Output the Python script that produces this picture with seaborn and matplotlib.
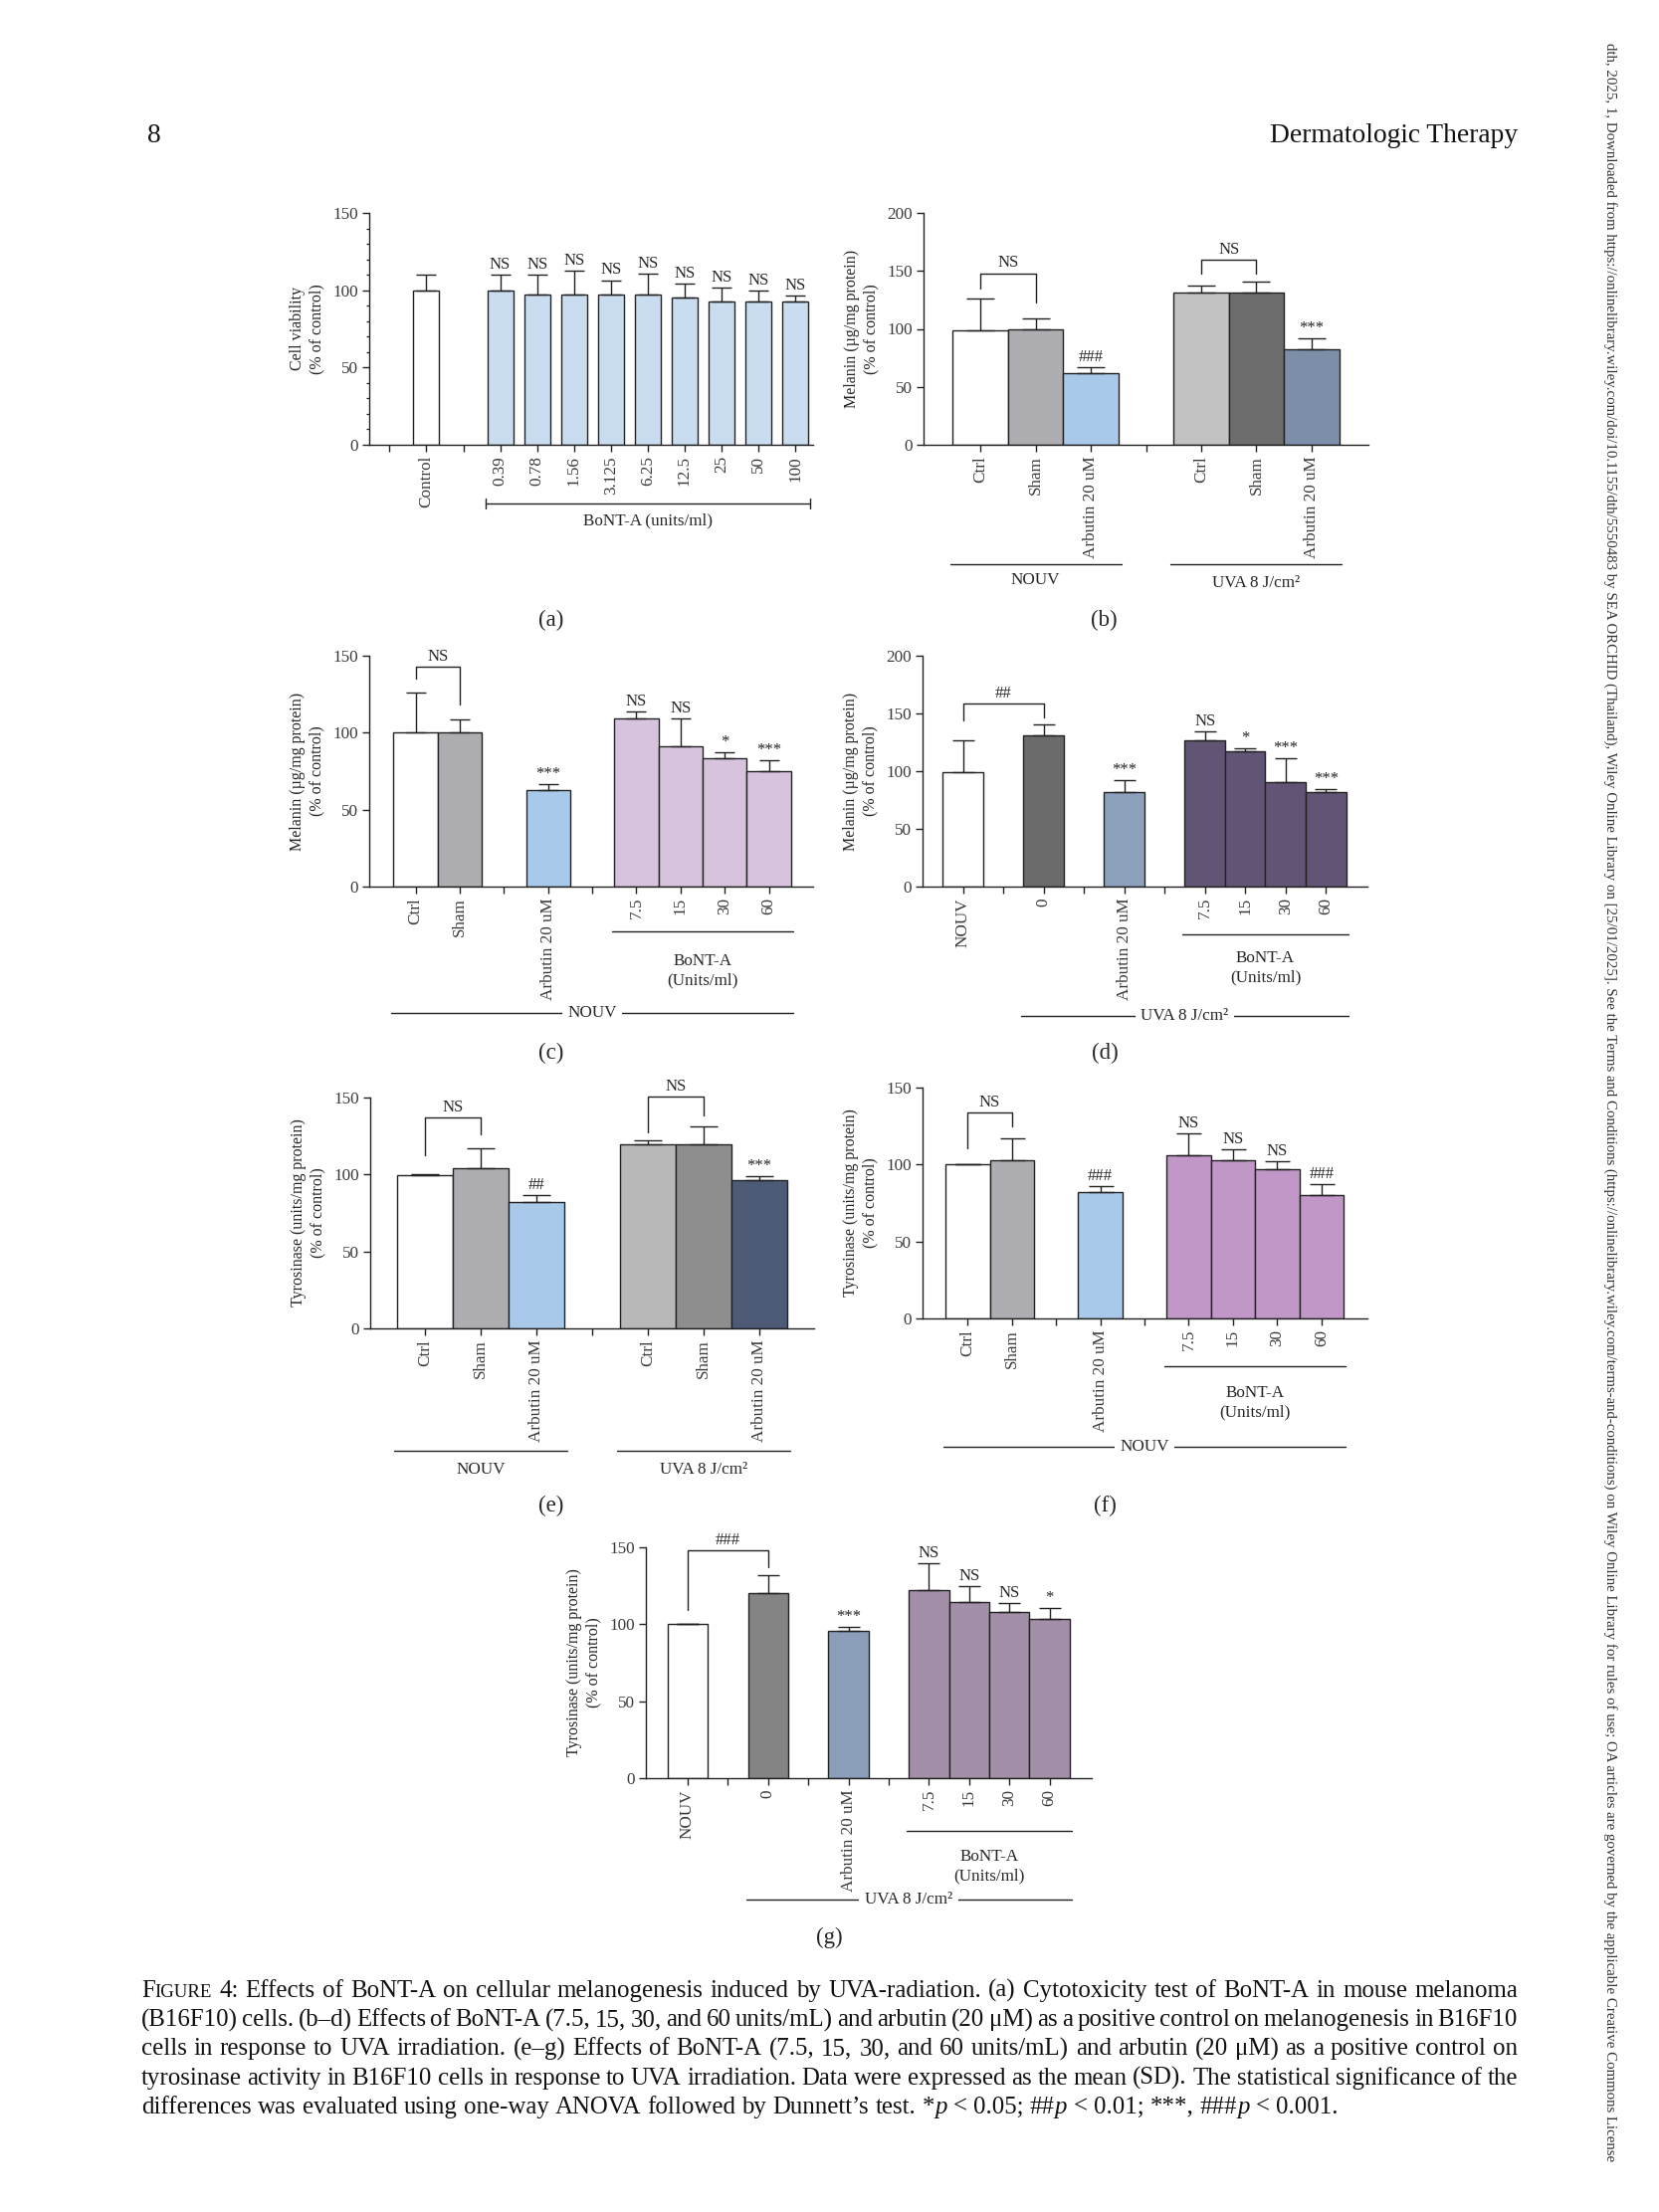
import re
import numpy as np
import pandas as pd
import matplotlib
matplotlib.use("Agg")
import matplotlib.pyplot as plt
import seaborn as sns
from matplotlib.ticker import MultipleLocator
from matplotlib.transforms import blended_transform_factory

# ------------------------------------------------------------------ data
# (a) cytotoxicity
A_order = ["gap_a1", "Control", "gap_a2", "0.39", "0.78", "1.56", "3.125", "6.25", "12.5", "25", "50", "100"]
A_ticklabels = ["", "Control", "", "0.39", "0.78", "1.56", "3.125", "6.25", "12.5", "25", "50", "100"]
A_groups = ["Control", "0.39", "0.78", "1.56", "3.125", "6.25", "12.5", "25", "50", "100"]
A_values = [100, 100, 97.5, 97.5, 97.5, 97.5, 95, 93, 92.5, 92.5]
A_sd = [10, 10, 12.5, 15, 9, 13, 9.5, 8.5, 7.5, 4]
A_marks = ["", "NS", "NS", "NS", "NS", "NS", "NS", "NS", "NS", "NS"]
A_colors = ["#FFFFFF"] + ["#CADCF0"] * 9
A_brackets = []

# (b) melanin, NOUV vs UVA controls
B_order = ["NOUV Ctrl", "NOUV Sham", "NOUV Arbutin", "gap_b1", "UVA Ctrl", "UVA Sham", "UVA Arbutin"]
B_ticklabels = ["Ctrl", "Sham", "Arbutin 20 uM", "", "Ctrl", "Sham", "Arbutin 20 uM"]
B_groups = ["NOUV Ctrl", "NOUV Sham", "NOUV Arbutin", "UVA Ctrl", "UVA Sham", "UVA Arbutin"]
B_values = [99, 100, 62, 131, 131, 82]
B_sd = [27.5, 8.6, 5, 6, 10, 9.5]
B_marks = ["", "", "###", "", "", "***"]
B_colors = ["#FFFFFF", "#AEAEB2", "#A9C9EA", "#C2C2C2", "#6D6D6D", "#7D8EA8"]
B_brackets = [("NOUV Ctrl", "NOUV Sham", 148, 135, 123, "NS"),
              ("UVA Ctrl", "UVA Sham", 160, 147.5, 147.5, "NS")]

# (c) melanin, NOUV + BoNT-A
C_order = ["Ctrl", "Sham", "gap_c1", "Arbutin", "gap_c2", "7.5", "15", "30", "60"]
C_ticklabels = ["Ctrl", "Sham", "", "Arbutin 20 uM", "", "7.5", "15", "30", "60"]
C_groups = ["Ctrl", "Sham", "Arbutin", "7.5", "15", "30", "60"]
C_values = [100.5, 100.5, 62.7, 109.3, 91.2, 83.4, 75]
C_sd = [25.5, 8, 4, 4.3, 18, 3.9, 7]
C_marks = ["", "", "***", "NS", "NS", "*", "***"]
C_colors = ["#FFFFFF", "#AEAEB2", "#A9C9EA", "#D8C3DE", "#D8C3DE", "#D8C3DE", "#D8C3DE"]
C_brackets = [("Ctrl", "Sham", 143, 135, 118, "NS")]

# (d) melanin, UVA + BoNT-A
D_order = ["NOUV", "gap_d1", "0", "gap_d2", "Arbutin", "gap_d3", "7.5", "15", "30", "60"]
D_ticklabels = ["NOUV", "", "0", "", "Arbutin 20 uM", "", "7.5", "15", "30", "60"]
D_groups = ["NOUV", "0", "Arbutin", "7.5", "15", "30", "60"]
D_values = [99, 131, 82, 126.7, 117.2, 90.5, 82]
D_sd = [27.6, 9.2, 10.3, 7.5, 2.6, 20.7, 2.6]
D_marks = ["", "", "***", "NS", "*", "***", "***"]
D_colors = ["#FFFFFF", "#6B6B6B", "#8CA1BC", "#625475", "#625475", "#625475", "#625475"]
D_brackets = [("NOUV", "0", 158.6, 144, 146.8, "##")]

# (e) tyrosinase, NOUV vs UVA controls
E_order = ["NOUV Ctrl", "NOUV Sham", "NOUV Arbutin", "gap_e1", "UVA Ctrl", "UVA Sham", "UVA Arbutin"]
E_ticklabels = ["Ctrl", "Sham", "Arbutin 20 uM", "", "Ctrl", "Sham", "Arbutin 20 uM"]
E_groups = ["NOUV Ctrl", "NOUV Sham", "NOUV Arbutin", "UVA Ctrl", "UVA Sham", "UVA Arbutin"]
E_values = [99.8, 104.1, 82.1, 119.6, 119.6, 96.3]
E_sd = [0.4, 13, 4.5, 2.6, 11.6, 2.6]
E_marks = ["", "", "##", "", "", "***"]
E_colors = ["#FFFFFF", "#AEAEB2", "#A9C9EA", "#B8B8B8", "#8E8E8E", "#4D5B77"]
E_brackets = [("NOUV Ctrl", "NOUV Sham", 137, 112.7, 125.9, "NS"),
              ("UVA Ctrl", "UVA Sham", 150.6, 127.4, 138.1, "NS")]

# (f) tyrosinase, NOUV + BoNT-A
F_order = ["Ctrl", "Sham", "gap_f1", "Arbutin", "gap_f2", "7.5", "15", "30", "60"]
F_ticklabels = ["Ctrl", "Sham", "", "Arbutin 20 uM", "", "7.5", "15", "30", "60"]
F_groups = ["Ctrl", "Sham", "Arbutin", "7.5", "15", "30", "60"]
F_values = [100, 102.8, 82.1, 106, 102.8, 97, 80.2]
F_sd = [0.3, 14.4, 3.9, 14.3, 7.1, 5.2, 7.3]
F_marks = ["", "", "###", "NS", "NS", "NS", "###"]
F_colors = ["#FFFFFF", "#AEAEB2", "#A9C9EA", "#C097C6", "#C097C6", "#C097C6", "#C097C6"]
F_brackets = [("Ctrl", "Sham", 133.8, 110.6, 124.6, "NS")]

# (g) tyrosinase, UVA + BoNT-A
G_order = ["NOUV", "gap_g1", "0", "gap_g2", "Arbutin", "gap_g3", "7.5", "15", "30", "60"]
G_ticklabels = ["NOUV", "", "0", "", "Arbutin 20 uM", "", "7.5", "15", "30", "60"]
G_groups = ["NOUV", "0", "Arbutin", "7.5", "15", "30", "60"]
G_values = [100.2, 120.3, 95.7, 122.2, 114.4, 108, 103.4]
G_sd = [0, 11.6, 2.4, 17.2, 10.4, 5.8, 6.9]
G_marks = ["", "", "***", "NS", "NS", "NS", "*"]
G_colors = ["#FFFFFF", "#848484", "#8A9DB9", "#A48FA9", "#A48FA9", "#A48FA9", "#A48FA9"]
G_brackets = [("NOUV", "0", 148, 109.3, 136.9, "###")]

YLAB_A = "Cell viability\n(% of control)"
YLAB_MEL = "Melanin (\u00b5g/mg protein)\n(% of control)"
YLAB_TYR = "Tyrosinase (units/mg protein)\n(% of control)"

HEADER_LEFT = "8"
HEADER_RIGHT = "Dermatologic Therapy"
CAPTION = [
    "Figure 4: Effects of BoNT-A on cellular melanogenesis induced by UVA-radiation. (a) Cytotoxicity test of BoNT-A in mouse melanoma",
    "(B16F10) cells. (b\u2013d) Effects of BoNT-A (7.5, 15, 30, and 60 units/mL) and arbutin (20 \u03bcM) as a positive control on melanogenesis in B16F10",
    "cells in response to UVA irradiation. (e\u2013g) Effects of BoNT-A (7.5, 15, 30, and 60 units/mL) and arbutin (20 \u03bcM) as a positive control on",
    "tyrosinase activity in B16F10 cells in response to UVA irradiation. Data were expressed as the mean (SD). The statistical significance of the",
    "differences was evaluated using one-way ANOVA followed by Dunnett\u2019s test. *p < 0.05; ##p < 0.01; ***, ###p < 0.001.",
]
SIDE_TEXT = ("dth, 2025, 1, Downloaded from https://onlinelibrary.wiley.com/doi/10.1155/dth/5550483 by SEA ORCHID (Thailand), "
             "Wiley Online Library on [25/01/2025]. See the Terms and Conditions (https://onlinelibrary.wiley.com/terms-and-conditions) "
             "on Wiley Online Library for rules of use; OA articles are governed by the applicable Creative Commons License")

# ------------------------------------------------------------------ style
sns.set_style("ticks")
plt.rcParams["font.family"] = ["Liberation Serif", "DejaVu Serif"]
EDGE = "#222222"
TXT = "#262626"
TICKC = "#3a3a3a"
FS_TICK = 12.3
FS_LAB = 11.5
FS_ANN = 12.0
FS_GRP = 12.3

W, H = 1667, 2223
fig = plt.figure(figsize=(W / 100, H / 100), dpi=100)
fig.patch.set_facecolor("white")


def draw_panel(box, xlim, ylim, ystep, order, ticklabels, keys, values, sds, colors, marks,
               brackets, groups, ylabel, bar_width=1.0, capsize=8, minor=None):
    l, t, r, b = box
    axw, axh = r - l, b - t
    ax = fig.add_axes([l / W, 1 - b / H, axw / W, axh / H])
    df = pd.DataFrame({"group": keys, "value": values})
    sns.barplot(data=df, x="group", y="value", order=order, hue="group", hue_order=keys,
                palette=dict(zip(keys, colors)), saturation=1, width=bar_width,
                edgecolor=EDGE, linewidth=1.0, errorbar=None, legend=False, ax=ax)
    ax.set_xlim(*xlim)
    ax.set_ylim(*ylim)
    ax.set_yticks(np.arange(ylim[0], ylim[1] + 1, ystep))
    if minor:
        ax.yaxis.set_minor_locator(MultipleLocator(minor))
        ax.tick_params(axis="y", which="minor", length=2.5, width=0.9, color=EDGE)
    ax.set_xticks(ax.get_xticks(), ticklabels, rotation=90)
    ax.tick_params(axis="both", which="major", length=5, width=1, color=EDGE,
                   labelsize=FS_TICK, labelcolor=TICKC, pad=3)
    for s in ("top", "right"):
        ax.spines[s].set_visible(False)
    for s in ("left", "bottom"):
        ax.spines[s].set_color(EDGE)
        ax.spines[s].set_linewidth(1.0)
    ax.set_xlabel("")
    ax.set_ylabel(ylabel, fontsize=FS_LAB, color=TXT, va="center", ha="center", linespacing=1.3)
    ax.yaxis.set_label_coords(-62 / axw, 0.5)

    sd_map = dict(zip(keys, sds))
    mark_map = dict(zip(keys, marks))
    centers, lefts, rights, tops = {}, {}, {}, {}
    for p in ax.patches:
        cx = p.get_x() + p.get_width() / 2
        idx = int(round(cx))
        if idx < 0 or idx >= len(order):
            continue
        k = order[idx]
        if k not in sd_map:
            continue
        centers[k] = cx
        lefts[k] = p.get_x()
        rights[k] = p.get_x() + p.get_width()
        tops[k] = p.get_height()
    for k in keys:
        cx, top, sd = centers[k], tops[k], sd_map[k]
        ax.errorbar([cx], [top], yerr=[[0], [sd]], fmt="none", ecolor=EDGE, elinewidth=1.0,
                    capsize=capsize, capthick=1.0, zorder=3, clip_on=False)
        if mark_map[k]:
            ax.annotate(mark_map[k], (cx, top + sd), xytext=(0, 1.5), textcoords="offset points",
                        ha="center", va="bottom", fontsize=FS_ANN, color=TXT, annotation_clip=False)
    for k1, k2, top, lb, rb, lab in brackets:
        x1, x2 = centers[k1], centers[k2]
        ax.plot([x1, x1, x2, x2], [lb, top, top, rb], color=EDGE, lw=1.0, clip_on=False)
        ax.annotate(lab, ((x1 + x2) / 2, top), xytext=(0, 1.5), textcoords="offset points",
                    ha="center", va="bottom", fontsize=FS_ANN, color=TXT, annotation_clip=False)

    tr = blended_transform_factory(ax.transData, ax.transAxes)
    for k1, k2, kind, text, loff, toff in groups:
        pad = 0.05
        x1, x2 = lefts[k1] - pad, rights[k2] + pad
        yl = -loff / axh
        yt = -toff / axh
        ax.plot([x1, x2], [yl, yl], color=EDGE, lw=1.0, transform=tr, clip_on=False)
        if kind == "bracket":
            c = 5 / axh
            for xx in (x1, x2):
                ax.plot([xx, xx], [yl - c, yl + c], color=EDGE, lw=1.0, transform=tr, clip_on=False)
        if kind == "through":
            ax.text((x1 + x2) / 2, yl, text, transform=tr, ha="center", va="center", fontsize=FS_GRP,
                    color=TXT, zorder=5, bbox=dict(fc="white", ec="none", pad=4), clip_on=False)
        else:
            ax.text((x1 + x2) / 2, yt, text, transform=tr, ha="center", va="center", fontsize=FS_GRP,
                    color=TXT, linespacing=1.3, clip_on=False)
    return ax


draw_panel((371, 214, 817, 447), (-0.55, 11.48), (0, 150), 50, A_order, A_ticklabels, A_groups,
           A_values, A_sd, A_colors, A_marks, A_brackets,
           [("0.39", "100", "bracket", "BoNT-A (units/ml)", 59, 76)], YLAB_A,
           bar_width=0.7, capsize=7.5, minor=10)
draw_panel((928, 214, 1375, 447), (-1.03, 7.03), (0, 200), 50, B_order, B_ticklabels, B_groups,
           B_values, B_sd, B_colors, B_marks, B_brackets,
           [("NOUV Ctrl", "NOUV Arbutin", "under", "NOUV", 120, 136),
            ("UVA Ctrl", "UVA Arbutin", "under", "UVA 8 J/cm\u00b2", 120, 139)], YLAB_MEL,
           capsize=10)
draw_panel((371, 659, 817, 891), (-1.05, 9.0), (0, 150), 50, C_order, C_ticklabels, C_groups,
           C_values, C_sd, C_colors, C_marks, C_brackets,
           [("7.5", "60", "under", "BoNT-A\n(Units/ml)", 45, 85),
            ("Ctrl", "60", "through", "NOUV", 127, 127)], YLAB_MEL, capsize=7.5)
draw_panel((927, 659, 1374, 891), (-1.0, 10.03), (0, 200), 50, D_order, D_ticklabels, D_groups,
           D_values, D_sd, D_colors, D_marks, D_brackets,
           [("7.5", "60", "under", "BoNT-A\n(Units/ml)", 48, 82),
            ("0", "60", "through", "UVA 8 J/cm\u00b2", 130, 130)], YLAB_MEL, capsize=8)
draw_panel((372, 1103, 818, 1335), (-0.98, 6.98), (0, 150), 50, E_order, E_ticklabels, E_groups,
           E_values, E_sd, E_colors, E_marks, E_brackets,
           [("NOUV Ctrl", "NOUV Arbutin", "under", "NOUV", 123, 142),
            ("UVA Ctrl", "UVA Arbutin", "under", "UVA 8 J/cm\u00b2", 123, 142)], YLAB_TYR,
           capsize=10)
draw_panel((927, 1093, 1374, 1325), (-1.02, 9.04), (0, 150), 50, F_order, F_ticklabels, F_groups,
           F_values, F_sd, F_colors, F_marks, F_brackets,
           [("7.5", "60", "under", "BoNT-A\n(Units/ml)", 48, 85),
            ("Ctrl", "60", "through", "NOUV", 129, 129)], YLAB_TYR, capsize=9)
draw_panel((649, 1555, 1097, 1787), (-1.04, 10.05), (0, 150), 50, G_order, G_ticklabels, G_groups,
           G_values, G_sd, G_colors, G_marks, G_brackets,
           [("7.5", "60", "under", "BoNT-A\n(Units/ml)", 53, 89),
            ("0", "60", "through", "UVA 8 J/cm\u00b2", 122, 122)], YLAB_TYR, capsize=8)

# panel letters
for lab, (x, y) in zip(["(a)", "(b)", "(c)", "(d)", "(e)", "(f)", "(g)"],
                       [(554, 623), (1109, 623), (554, 1058), (1110, 1058),
                        (554, 1513), (1110, 1513), (833, 1947)]):
    fig.text(x / W, 1 - y / H, lab, ha="center", va="center", fontsize=16.5, color=TXT)

# header
fig.text(148 / W, 1 - 143 / H, HEADER_LEFT, ha="left", va="baseline", fontsize=19.8, color="#111111")
fig.text(1525 / W, 1 - 143 / H, HEADER_RIGHT, ha="right", va="baseline", fontsize=19.8, color="#111111")

# caption (justified)
renderer = fig.canvas.get_renderer()


def measure(txt, **kw):
    t = fig.text(0, 0, txt, **kw)
    w = t.get_window_extent(renderer).width
    t.remove()
    return w


def runs_for(word, fs):
    base = dict(fontsize=fs, color="#111111")
    if word == "Figure":
        return [("F", base), ("IGURE", dict(base, fontsize=fs * 0.76))]
    m = re.match(r"^([*#]+)p$", word)
    if m:
        return [(m.group(1), base), ("p", dict(base, style="italic"))]
    if word == "p":
        return [("p", dict(base, style="italic"))]
    return [(word, base)]


def natural_width(line, fs, space_em):
    ws = line.split(" ")
    tot = sum(measure(t, **p) for w in ws for t, p in runs_for(w, fs))
    return tot + (len(ws) - 1) * space_em * fs * 100 / 72


X0, X1 = 142, 1525
fs0 = 17.0
fit = fs0 * min((X1 - X0) / natural_width(l, fs0, 0.14) for l in CAPTION[:4])
last = fs0 * 1200 / natural_width(CAPTION[4], fs0, 0.25)
cfs = min(fit, last)
space_w = 0.25 * cfs * 100 / 72
for i, line in enumerate(CAPTION):
    ws = line.split(" ")
    runs = [runs_for(w, cfs) for w in ws]
    widths = [[measure(t, **p) for t, p in r] for r in runs]
    total = sum(sum(w) for w in widths)
    gap = (X1 - X0 - total) / (len(ws) - 1) if i < 4 else space_w
    y = 2007 + i * 29.2
    x = X0
    for r, wl in zip(runs, widths):
        xx = x
        for (t, p), wv in zip(r, wl):
            fig.text(xx / W, 1 - y / H, t, ha="left", va="baseline", **p)
            xx += wv
        x += sum(wl) + gap

# side text (rotated)
sfs = 10.0
sw = measure(SIDE_TEXT, fontsize=sfs)
sfs = sfs * (2130 / sw)
fig.text(1618 / W, 1 - 43 / H, SIDE_TEXT, rotation=-90, ha="center", va="top",
         fontsize=sfs, color="#333333")

fig.savefig("out.png", dpi=100, facecolor="white")
